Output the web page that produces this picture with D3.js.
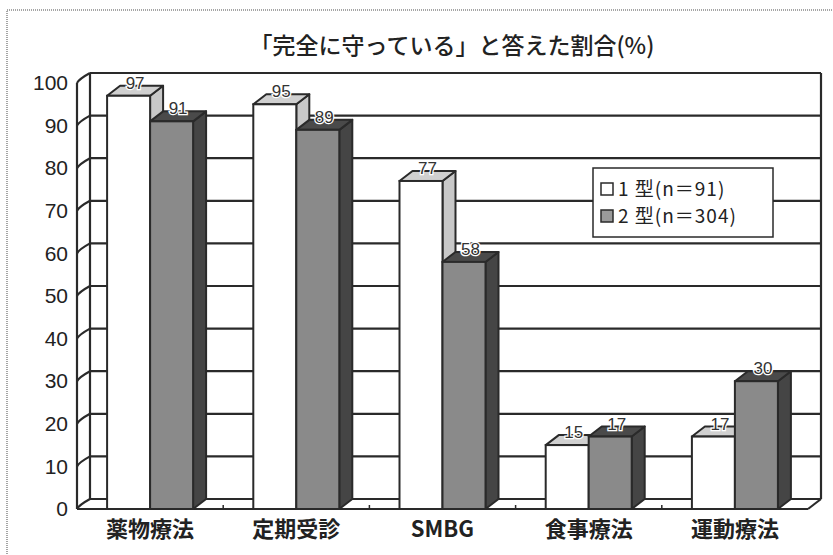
<!DOCTYPE html>
<html>
<head>
<meta charset="utf-8">
<script src="https://cdn.jsdelivr.net/npm/d3@7"></script>
<style>
  body { margin: 0; background: #fff; }
  svg { display: block; }
</style>
</head>
<body>
<div id="chart"></div>
<script>
const categories = ["薬物療法", "定期受診", "SMBG", "食事療法", "運動療法"];
const seriesNames = ["1 型(n＝91)", "2 型(n＝304)"];
const type1 = [97, 95, 77, 15, 17];
const type2 = [91, 89, 58, 17, 30];
const yTicks = [0, 10, 20, 30, 40, 50, 60, 70, 80, 90, 100];

const width = 833, height = 555;
const dx = 13, dy = -10; // 3D depth

const svg = d3.select("#chart").append("svg")
  .attr("width", width)
  .attr("height", height);

// outer dotted frame
svg.append("rect")
  .attr("x", 7).attr("y", 10)
  .attr("width", 900).attr("height", 600)
  .attr("fill", "none")
  .attr("stroke", "#888")
  .attr("stroke-width", 1.5)
  .attr("stroke-dasharray", "1,1");

svg.append("text")
  .attr("x", 452).attr("y", 54)
  .attr("text-anchor", "middle")
  .attr("font-family", "'Noto Sans CJK JP', sans-serif")
  .attr("font-size", 23)
  .attr("font-weight", 500)
  .attr("fill", "#222")
  .text("「完全に守っている」と答えた割合(%)");

const x0 = d3.scaleBand().domain(categories).range([77, 808]);
const x1 = d3.scaleBand().domain(seriesNames).range([0, x0.bandwidth()]).paddingOuter(0.7);
const y = d3.scaleLinear().domain([0, 100]).range([509, 83]);

const ink = "#2a2a2a";

// back wall gridlines
svg.append("g").selectAll("line")
  .data(yTicks)
  .join("line")
  .attr("x1", 77 + dx).attr("x2", 808 + dx)
  .attr("y1", d => y(d) + dy).attr("y2", d => y(d) + dy)
  .attr("stroke", ink).attr("stroke-width", 2.2);

// walls and floor
const walls = svg.append("g").attr("fill", "none").attr("stroke", ink).attr("stroke-width", 2.2);
walls.append("line").attr("x1", 77 + dx).attr("x2", 77 + dx).attr("y1", y(0) + dy).attr("y2", y(100) + dy);
walls.append("line").attr("x1", 808 + dx).attr("x2", 808 + dx).attr("y1", y(0) + dy).attr("y2", y(100) + dy);
walls.append("line").attr("x1", 77).attr("x2", 77).attr("y1", y(0)).attr("y2", y(100));
walls.append("line").attr("x1", 77).attr("x2", 808).attr("y1", y(0)).attr("y2", y(0));
walls.append("line").attr("x1", 808).attr("x2", 808 + dx).attr("y1", y(0)).attr("y2", y(0) + dy);

// slanted ticks on left wall
walls.selectAll("path.tk")
  .data(yTicks)
  .join("path")
  .attr("class", "tk")
  .attr("d", d => `M77,${y(d)} Q79,${y(d) + dy * 0.4} ${77 + dx},${y(d) + dy}`);

// floor ticks at category boundaries
walls.selectAll("line.ft")
  .data(categories.slice(1))
  .join("line")
  .attr("class", "ft")
  .attr("x1", d => x0(d)).attr("x2", d => x0(d))
  .attr("y1", y(0)).attr("y2", y(0) - 4)
  .attr("stroke-width", 1.5);

// y axis labels
const yAxis = svg.append("g")
  .attr("transform", "translate(76,0)")
  .call(d3.axisLeft(y).tickValues(yTicks).tickSize(0).tickPadding(8));
yAxis.select(".domain").remove();
yAxis.selectAll("text")
  .attr("font-family", "'Liberation Sans', Arial, sans-serif")
  .attr("font-size", 21)
  .attr("fill", "#222");

// bars
const styles = [
  { front: "#ffffff", top: "#d0d0d0", side: "#c8c8c8" },
  { front: "#8a8a8a", top: "#4a4a4a", side: "#454545" }
];
const rows = [];
categories.forEach((c, i) => {
  rows.push({ cat: c, s: 0, v: type1[i] });
  rows.push({ cat: c, s: 1, v: type2[i] });
});

const bars = svg.append("g").selectAll("g")
  .data(rows)
  .join("g");

bars.each(function (d) {
  const g = d3.select(this);
  const st = styles[d.s];
  const xl = x0(d.cat) + x1(seriesNames[d.s]);
  const xr = xl + x1.bandwidth();
  const yt = y(d.v), yb = y(0);
  g.append("path")
    .attr("d", `M${xr},${yb}L${xr + dx},${yb + dy}L${xr + dx},${yt + dy}L${xr},${yt}Z`)
    .attr("fill", st.side).attr("stroke", ink).attr("stroke-width", 2).attr("stroke-linejoin", "round");
  g.append("path")
    .attr("d", `M${xl},${yt}L${xl + dx},${yt + dy}L${xr + dx},${yt + dy}L${xr},${yt}Z`)
    .attr("fill", st.top).attr("stroke", ink).attr("stroke-width", 2).attr("stroke-linejoin", "round");
  g.append("rect")
    .attr("x", xl).attr("y", yt)
    .attr("width", xr - xl).attr("height", yb - yt)
    .attr("fill", st.front).attr("stroke", ink).attr("stroke-width", 2);
});

// value labels
svg.append("g").selectAll("text")
  .data(rows)
  .join("text")
  .attr("x", d => x0(d.cat) + x1(seriesNames[d.s]) + x1.bandwidth() / 2 + dx / 2)
  .attr("y", d => y(d.v) + dy + 3)
  .attr("text-anchor", "middle")
  .attr("font-family", "'Liberation Sans', Arial, sans-serif")
  .attr("font-size", 17)
  .attr("fill", "#333")
  .attr("stroke", "#fff").attr("stroke-width", 2.5).attr("paint-order", "stroke")
  .text(d => d.v);

// x labels
svg.append("g").selectAll("text")
  .data(categories)
  .join("text")
  .attr("x", d => x0(d) + x0.bandwidth() / 2)
  .attr("y", 537)
  .attr("text-anchor", "middle")
  .attr("font-family", "'Noto Sans CJK JP', 'Liberation Sans', sans-serif")
  .attr("font-weight", "bold")
  .attr("font-size", 22)
  .attr("fill", "#222")
  .text(d => d);

// legend
const lg = svg.append("g").attr("transform", "translate(593,168)");
lg.append("rect")
  .attr("width", 180).attr("height", 69)
  .attr("fill", "#fff").attr("stroke", ink).attr("stroke-width", 1.5);
const li = lg.selectAll("g")
  .data(seriesNames)
  .join("g")
  .attr("transform", (d, i) => `translate(8,${21 + i * 27})`);
li.append("rect")
  .attr("x", 0).attr("y", -6)
  .attr("width", 12).attr("height", 12)
  .attr("fill", (d, i) => i === 0 ? "#fff" : "#9a9a9a")
  .attr("stroke", ink).attr("stroke-width", 1.5);
li.append("text")
  .attr("x", 17).attr("y", 7)
  .attr("font-family", "'Noto Sans CJK JP', sans-serif")
  .attr("font-size", 19)
  .attr("letter-spacing", 1)
  .attr("fill", "#222")
  .text(d => d);
</script>
</body>
</html>
